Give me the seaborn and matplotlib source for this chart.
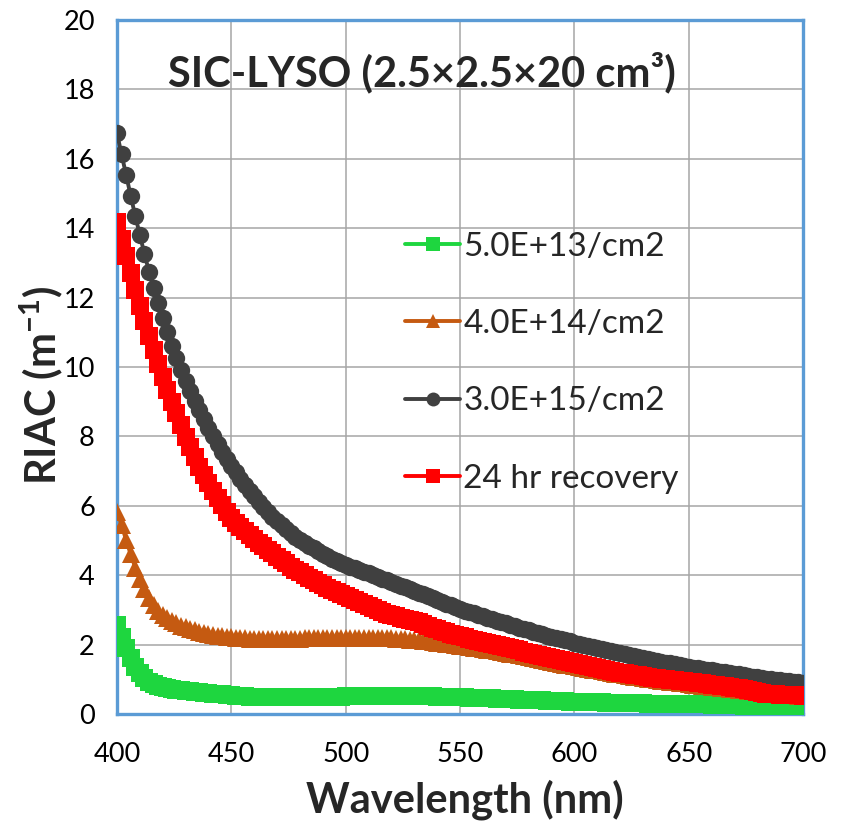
import numpy as np
import pandas as pd
import matplotlib
matplotlib.use("Agg")
import matplotlib.pyplot as plt
import seaborn as sns

wavelength = list(range(400, 701, 2))

riac_5e13 = [
    2.56, 2.23, 1.89, 1.60, 1.36, 1.17, 1.03, 0.93, 0.86, 0.81,
    0.77, 0.74, 0.72, 0.70, 0.68, 0.66, 0.65, 0.64, 0.62, 0.61,
    0.60, 0.59, 0.58, 0.57, 0.56, 0.55, 0.53, 0.52, 0.51, 0.50,
    0.50, 0.49, 0.49, 0.48, 0.48, 0.48, 0.48, 0.48, 0.48, 0.48,
    0.48, 0.48, 0.48, 0.49, 0.49, 0.49, 0.50, 0.50, 0.50, 0.50,
    0.51, 0.51, 0.51, 0.51, 0.51, 0.52, 0.52, 0.52, 0.52, 0.52,
    0.52, 0.52, 0.52, 0.52, 0.52, 0.52, 0.51, 0.51, 0.51, 0.51,
    0.50, 0.50, 0.50, 0.49, 0.49, 0.48, 0.48, 0.47, 0.47, 0.46,
    0.46, 0.45, 0.45, 0.44, 0.43, 0.43, 0.42, 0.42, 0.41, 0.41,
    0.40, 0.40, 0.39, 0.39, 0.38, 0.38, 0.38, 0.37, 0.37, 0.36,
    0.36, 0.36, 0.35, 0.35, 0.34, 0.34, 0.34, 0.33, 0.33, 0.33,
    0.32, 0.32, 0.32, 0.31, 0.31, 0.31, 0.30, 0.30, 0.30, 0.30,
    0.29, 0.29, 0.29, 0.29, 0.29, 0.29, 0.28, 0.28, 0.28, 0.28,
    0.27, 0.27, 0.27, 0.26, 0.26, 0.25, 0.25, 0.24, 0.23, 0.22,
    0.22, 0.21, 0.21, 0.20, 0.19, 0.18, 0.17, 0.17, 0.16, 0.15,
    0.15,
]

riac_4e14 = [
    5.83, 5.45, 5.01, 4.60, 4.22, 3.90, 3.60, 3.35, 3.14, 2.98,
    2.86, 2.76, 2.68, 2.61, 2.55, 2.50, 2.45, 2.41, 2.37, 2.34,
    2.31, 2.28, 2.26, 2.24, 2.22, 2.21, 2.20, 2.19, 2.18, 2.17,
    2.17, 2.16, 2.16, 2.16, 2.16, 2.16, 2.16, 2.16, 2.17, 2.17,
    2.17, 2.18, 2.18, 2.18, 2.19, 2.19, 2.19, 2.19, 2.20, 2.20,
    2.20, 2.20, 2.20, 2.20, 2.20, 2.20, 2.20, 2.20, 2.19, 2.19,
    2.18, 2.17, 2.16, 2.15, 2.14, 2.13, 2.12, 2.10, 2.09, 2.07,
    2.06, 2.04, 2.02, 2.01, 1.99, 1.97, 1.95, 1.93, 1.91, 1.89,
    1.87, 1.85, 1.83, 1.81, 1.79, 1.76, 1.74, 1.72, 1.69, 1.67,
    1.64, 1.61, 1.58, 1.55, 1.52, 1.50, 1.47, 1.45, 1.42, 1.40,
    1.38, 1.36, 1.33, 1.31, 1.28, 1.26, 1.23, 1.21, 1.18, 1.16,
    1.14, 1.12, 1.10, 1.08, 1.06, 1.04, 1.02, 1.00, 0.98, 0.96,
    0.94, 0.92, 0.91, 0.89, 0.88, 0.86, 0.85, 0.83, 0.82, 0.80,
    0.79, 0.77, 0.76, 0.74, 0.73, 0.71, 0.70, 0.68, 0.67, 0.65,
    0.64, 0.62, 0.61, 0.60, 0.58, 0.57, 0.56, 0.55, 0.54, 0.53,
    0.52,
]

riac_3e15 = [
    16.73, 16.13, 15.53, 14.93, 14.35, 13.80, 13.26, 12.75, 12.27, 11.83,
    11.40, 11.00, 10.60, 10.25, 9.91, 9.60, 9.30, 9.02, 8.75, 8.49,
    8.24, 8.00, 7.77, 7.55, 7.35, 7.15, 6.96, 6.78, 6.60, 6.43,
    6.27, 6.11, 5.96, 5.82, 5.69, 5.56, 5.44, 5.32, 5.21, 5.11,
    5.02, 4.93, 4.85, 4.77, 4.69, 4.62, 4.55, 4.48, 4.42, 4.36,
    4.30, 4.25, 4.20, 4.15, 4.10, 4.05, 4.00, 3.95, 3.90, 3.85,
    3.80, 3.75, 3.70, 3.65, 3.60, 3.55, 3.50, 3.45, 3.39, 3.34,
    3.28, 3.23, 3.18, 3.13, 3.08, 3.03, 2.98, 2.94, 2.90, 2.86,
    2.81, 2.77, 2.73, 2.69, 2.65, 2.61, 2.57, 2.53, 2.49, 2.45,
    2.41, 2.37, 2.33, 2.30, 2.26, 2.23, 2.19, 2.16, 2.12, 2.09,
    2.06, 2.03, 2.00, 1.97, 1.94, 1.91, 1.88, 1.85, 1.82, 1.79,
    1.76, 1.73, 1.70, 1.67, 1.64, 1.61, 1.59, 1.56, 1.53, 1.51,
    1.48, 1.46, 1.43, 1.41, 1.38, 1.36, 1.34, 1.32, 1.30, 1.28,
    1.26, 1.24, 1.22, 1.20, 1.18, 1.16, 1.14, 1.12, 1.10, 1.08,
    1.06, 1.04, 1.02, 1.00, 0.98, 0.97, 0.95, 0.94, 0.92, 0.91,
    0.90,
]

riac_recovery = [
    14.19, 13.68, 13.20, 12.70, 12.22, 11.77, 11.33, 10.89, 10.49, 10.10,
    9.72, 9.34, 9.00, 8.67, 8.33, 7.99, 7.70, 7.41, 7.13, 6.89,
    6.65, 6.43, 6.22, 6.02, 5.83, 5.66, 5.51, 5.38, 5.26, 5.15,
    5.04, 4.93, 4.83, 4.73, 4.63, 4.53, 4.43, 4.34, 4.25, 4.16,
    4.08, 4.00, 3.92, 3.85, 3.78, 3.71, 3.64, 3.58, 3.52, 3.46,
    3.40, 3.35, 3.29, 3.23, 3.17, 3.11, 3.05, 2.99, 2.93, 2.88,
    2.84, 2.81, 2.78, 2.75, 2.72, 2.68, 2.64, 2.59, 2.54, 2.49,
    2.44, 2.39, 2.35, 2.31, 2.27, 2.24, 2.21, 2.17, 2.14, 2.10,
    2.07, 2.04, 2.01, 1.98, 1.95, 1.92, 1.89, 1.86, 1.83, 1.79,
    1.76, 1.73, 1.70, 1.67, 1.64, 1.61, 1.58, 1.55, 1.52, 1.49,
    1.46, 1.44, 1.41, 1.38, 1.35, 1.32, 1.29, 1.26, 1.24, 1.21,
    1.19, 1.17, 1.15, 1.13, 1.11, 1.09, 1.07, 1.05, 1.03, 1.01,
    1.00, 0.98, 0.97, 0.95, 0.94, 0.93, 0.91, 0.90, 0.88, 0.87,
    0.85, 0.84, 0.82, 0.80, 0.78, 0.76, 0.74, 0.71, 0.68, 0.66,
    0.63, 0.61, 0.59, 0.58, 0.57, 0.56, 0.55, 0.55, 0.54, 0.54,
    0.53,
]

series_labels = ["5.0E+13/cm2", "4.0E+14/cm2", "3.0E+15/cm2", "24 hr recovery"]
series_values = [riac_5e13, riac_4e14, riac_3e15, riac_recovery]
series_colors = ["#1ED63F", "#C55A11", "#404040", "#FF0000"]
series_markers = ["s", "^", "o", "s"]

x_ticks = [400, 450, 500, 550, 600, 650, 700]
y_ticks = [0, 2, 4, 6, 8, 10, 12, 14, 16, 18, 20]

sns.set_theme(style="white")
plt.rcParams["font.family"] = ["Lato", "DejaVu Sans"]
plt.rcParams["mathtext.fontset"] = "custom"
plt.rcParams["mathtext.rm"] = "Lato"
plt.rcParams["mathtext.bf"] = "Lato:bold"

fig = plt.figure(figsize=(8.46, 8.24), dpi=100)
ax = fig.add_axes([117 / 846, 1 - 714 / 824, (803 - 117) / 846, (714 - 20) / 824])

for lab, vals, col, mk in zip(series_labels, series_values, series_colors, series_markers):
    df = pd.DataFrame({"Wavelength": wavelength[:len(vals)], "RIAC": vals})
    sns.lineplot(data=df, x="Wavelength", y="RIAC", ax=ax, color=col, marker=mk,
                 markersize=12.5, markeredgewidth=0, linewidth=2.8, label=lab,
                 zorder=3)

ax.set_xlim(400, 700)
ax.set_ylim(0, 20)
ax.set_xticks(x_ticks)
ax.set_yticks(y_ticks)
ax.grid(True, color="#A6A6A6", linewidth=1.1, zorder=0)
ax.set_axisbelow(True)
for sp in ax.spines.values():
    sp.set_visible(True)
    sp.set_color("#5B9BD5")
    sp.set_linewidth(2.4)
ax.tick_params(axis="both", which="major", direction="out", length=6, width=1,
               color="#A6A6A6", labelsize=19.5, pad=14, labelcolor="black")
ax.tick_params(axis="y", pad=10)

ax.set_xlabel("Wavelength (nm)", fontsize=30, fontweight="bold")
ax.set_ylabel(r"RIAC (m$^{\mathbf{-1}}$)", fontsize=30, fontweight="bold")
ax.xaxis.set_label_coords(0.507, -0.094)
ax.yaxis.set_label_coords(-0.075, 0.474)

ax.text(0.444, 0.925, "SIC-LYSO (2.5×2.5×20 cm³)", transform=ax.transAxes,
        ha="center", va="center", fontsize=30, fontweight="bold")

leg = ax.legend(loc="upper left", bbox_to_anchor=(0.42, 0.695), frameon=False,
                fontsize=24, handlelength=1.65, handletextpad=0.1,
                labelspacing=1.42, borderpad=0, borderaxespad=0, markerscale=0.8)

fig.savefig("out.png", dpi=100)
